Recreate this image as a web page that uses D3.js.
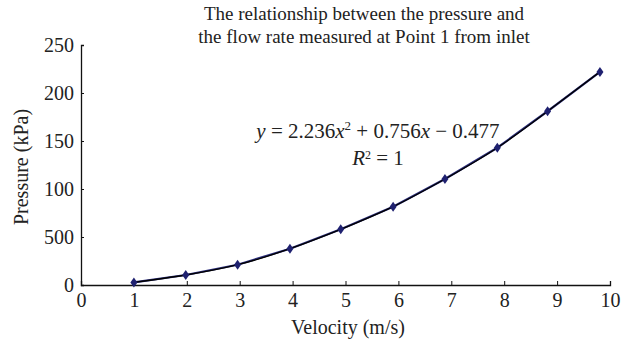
<!DOCTYPE html>
<html lang="en">
<head>
  <meta charset="UTF-8">
  <title>Pressure vs velocity at Point 1</title>
  <script src="https://cdn.jsdelivr.net/npm/d3@7"></script>
  <style>
    body { margin: 0; background: #fff; }
    text { font-family: "Liberation Serif", "DejaVu Serif", serif; fill: #222; }
  </style>
</head>
<body>
<div id="chart"></div>
<script>
  // data
  var velocity = [1.0, 1.98, 2.96, 3.95, 4.91, 5.9, 6.88, 7.87, 8.82, 9.81];
  var pressure = [2.7, 10.4, 21.1, 37.8, 58, 81.6, 110.4, 143, 181, 222];
  var xTicks = [0, 1, 2, 3, 4, 5, 6, 7, 8, 9, 10];
  var yTicks = [0, 50, 100, 150, 200, 250];
  var yTickLabels = ["0", "500", "100", "150", "200", "250"]; // as printed in the original
  var titleLines = ["The relationship between the pressure and", "the flow rate measured at Point 1 from inlet"];

  var width = 633, height = 347;
  var margin = { top: 45, right: 23, bottom: 62, left: 81 };

  var svg = d3.select("#chart").append("svg")
    .attr("width", width)
    .attr("height", height);

  var x = d3.scaleLinear().domain([0, 10]).range([margin.left, width - margin.right]);
  var y = d3.scaleLinear().domain([0, 250]).range([height - margin.bottom, margin.top]);

  // title
  svg.append("text")
    .attr("x", 364)
    .attr("y", 20)
    .attr("text-anchor", "middle")
    .style("font-size", "19px")
    .selectAll("tspan")
    .data(titleLines)
    .enter().append("tspan")
    .attr("x", 364)
    .attr("dy", function(d, i) { return i ? 23 : 0; })
    .text(function(d) { return d; });

  // x axis
  var xAxis = svg.append("g")
    .attr("transform", "translate(0," + y(0) + ")")
    .call(d3.axisBottom(x).tickValues(xTicks).tickSize(-4).tickPadding(8).tickFormat(d3.format("d")));
  xAxis.selectAll("text").style("font-size", "20px");

  // y axis
  var yAxis = svg.append("g")
    .attr("transform", "translate(" + x(0) + ",0)")
    .call(d3.axisLeft(y).tickValues(yTicks).tickSize(-3).tickPadding(7)
      .tickFormat(function(d, i) { return yTickLabels[i]; }));
  yAxis.selectAll("text").style("font-size", "20px");

  svg.selectAll(".domain").attr("stroke", "#111").attr("stroke-width", 1.3);
  svg.selectAll(".tick line").attr("stroke", "#111");

  // axis titles
  svg.append("text")
    .attr("x", 348)
    .attr("y", 334)
    .attr("text-anchor", "middle")
    .style("font-size", "20px")
    .text("Velocity (m/s)");

  svg.append("text")
    .attr("transform", "translate(28," + ((y(0) + y(250)) / 2 + 2) + ") rotate(-90)")
    .attr("text-anchor", "middle")
    .style("font-size", "20px")
    .text("Pressure (kPa)");

  var points = velocity.map(function(v, i) { return [v, pressure[i]]; });

  // measured series
  svg.append("path")
    .datum(points)
    .attr("fill", "none")
    .attr("stroke", "#2b2d7c")
    .attr("stroke-width", 2.2)
    .attr("d", d3.line()
      .x(function(d) { return x(d[0]); })
      .y(function(d) { return y(d[1]); }));

  // trend line
  svg.append("path")
    .datum(points)
    .attr("fill", "none")
    .attr("stroke", "#000")
    .attr("stroke-width", 1.3)
    .attr("d", d3.line()
      .curve(d3.curveNatural)
      .x(function(d) { return x(d[0]); })
      .y(function(d) { return y(d[1]); }));

  // diamond markers
  svg.selectAll(".marker")
    .data(points)
    .enter().append("path")
    .attr("class", "marker")
    .attr("transform", function(d) { return "translate(" + x(d[0]) + "," + y(d[1]) + ")"; })
    .attr("d", "M0,-5L3.5,0L0,5L-3.5,0Z")
    .attr("fill", "#1f2170");

  // fit equation
  var eq = svg.append("text")
    .attr("x", 378)
    .attr("y", 138)
    .attr("text-anchor", "middle")
    .style("font-size", "21px");
  eq.append("tspan").style("font-style", "italic").text("y");
  eq.append("tspan").text(" = 2.236");
  eq.append("tspan").style("font-style", "italic").text("x");
  eq.append("tspan").attr("dy", -8).style("font-size", "13px").text("2");
  eq.append("tspan").attr("dy", 8).text(" + 0.756");
  eq.append("tspan").style("font-style", "italic").text("x");
  eq.append("tspan").text(" \u2212 0.477");

  var r2 = svg.append("text")
    .attr("x", 378)
    .attr("y", 165)
    .attr("text-anchor", "middle")
    .style("font-size", "21px");
  r2.append("tspan").style("font-style", "italic").text("R");
  r2.append("tspan").attr("dy", -6).style("font-size", "12px").text("2");
  r2.append("tspan").attr("dy", 6).text(" = 1");
</script>
</body>
</html>
